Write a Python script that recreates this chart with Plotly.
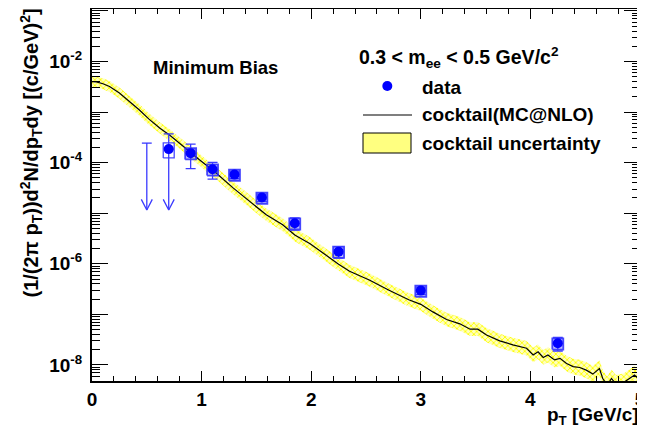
import plotly.graph_objects as go

# ---------------- data ----------------
cocktail_pt = [0.00, 0.04, 0.10, 0.16, 0.25, 0.34, 0.43, 0.52, 0.62, 0.71, 0.80, 0.89,
               0.98, 1.04, 1.10, 1.13, 1.29, 1.44, 1.59, 1.74, 1.85, 1.99, 2.17, 2.25,
               2.35, 2.53, 2.71, 2.89, 3.00, 3.11, 3.235, 3.356, 3.45, 3.52, 3.60, 3.72,
               3.84, 3.965, 4.025, 4.07, 4.117, 4.16, 4.22, 4.27, 4.33, 4.39, 4.45, 4.51,
               4.57, 4.63, 4.66, 4.70, 4.74, 4.78, 4.85, 4.91, 4.95, 5.00]
cocktail_val = [3.98e-3, 3.95e-3, 3.63e-3, 3.20e-3, 2.37e-3, 1.62e-3, 1.11e-3, 7.24e-4,
                4.79e-4, 3.47e-4, 2.45e-4, 1.66e-4, 1.14e-4, 8.9e-5, 7.2e-5, 6.3e-5,
                3.13e-5, 1.70e-5, 9.3e-6, 5.9e-6, 3.7e-6, 2.5e-6, 1.29e-6, 9.8e-7,
                7.1e-7, 4.8e-7, 3.0e-7, 1.95e-7, 1.58e-7, 1.12e-7, 7.9e-8, 6.5e-8,
                5.1e-8, 5.1e-8, 3.9e-8, 3.0e-8, 2.5e-8, 2.14e-8, 1.58e-8, 1.82e-8,
                1.41e-8, 1.58e-8, 1.26e-8, 1.35e-8, 1.07e-8, 9.3e-9, 8.9e-9, 7.9e-9,
                6.6e-9, 8.5e-9, 5.4e-9, 4.0e-9, 5.4e-9, 4.2e-9, 4.5e-9, 5.4e-9,
                6.3e-9, 5.0e-9]
# multiplicative half-width of the cocktail uncertainty band
cocktail_unc = [1.28, 1.28, 1.28, 1.28, 1.29, 1.29, 1.30, 1.30, 1.30, 1.31, 1.31, 1.31,
                1.32, 1.32, 1.32, 1.32, 1.33, 1.33, 1.33, 1.34, 1.34, 1.34, 1.35, 1.35,
                1.35, 1.35, 1.35, 1.36, 1.36, 1.36, 1.36, 1.37, 1.37, 1.37, 1.38, 1.38,
                1.38, 1.39, 1.40, 1.40, 1.40, 1.41, 1.41, 1.42, 1.42, 1.43, 1.43, 1.44,
                1.45, 1.46, 1.47, 1.48, 1.49, 1.50, 1.50, 1.51, 1.52, 1.52]

data_pt = [0.7, 0.9, 1.1, 1.3, 1.55, 1.85, 2.25, 3.0, 4.25]
data_val = [1.85e-4, 1.54e-4, 7.4e-5, 5.8e-5, 2.04e-5, 6.35e-6, 1.74e-6, 2.95e-7, 2.69e-8]
data_stat_up = [1.85e-4, 7.8e-5, 2.7e-5, 1.0e-5, 3.5e-6, 1.7e-6, 4.5e-7, 5e-8, 8e-9]
data_stat_dn = [0.0, 7.8e-5, 2.7e-5, 1.0e-5, 3.5e-6, 1.7e-6, 4.5e-7, 5e-8, 8e-9]
data_sys = [0.33, 0.25, 0.25, 0.25, 0.25, 0.25, 0.25, 0.25, 0.25]   # relative

# downward arrows: upper limit at 0.5 and lower stat. error of the 0.7 point
arrow_pt = [0.5, 0.7]
arrow_from = [2.43e-4, 1.85e-4]
arrow_tip = 1.16e-5
limit_pt = [0.5]
limit_val = [2.43e-4]

x_ticks = [0, 1, 2, 3, 4, 5]
y_decades = [1e-8, 1e-7, 1e-6, 1e-5, 1e-4, 1e-3, 1e-2, 1e-1]
y_ticktext = ['10<sup>-8</sup>', '', '10<sup>-6</sup>', '', '10<sup>-4</sup>', '',
              '10<sup>-2</sup>', '']
y_minor = [m * d for d in [1e-9, 1e-8, 1e-7, 1e-6, 1e-5, 1e-4, 1e-3, 1e-2, 1e-1]
           for m in range(2, 10)]

# ---------------- styling ----------------
FONT = 'Liberation Sans, Arial, Helvetica, sans-serif'
BLUE = '#0000ff'
EBLUE = '#3a3aff'
box_dx = 0.05
head_dx = 0.05
head_dec = 10 ** 0.21

fig = go.Figure()

band_lo = [v / f for v, f in zip(cocktail_val, cocktail_unc)]
band_hi = [v * f for v, f in zip(cocktail_val, cocktail_unc)]
fig.add_trace(go.Scatter(x=cocktail_pt, y=band_lo, mode='lines', line=dict(width=0),
                         showlegend=False, hoverinfo='skip'))
fig.add_trace(go.Scatter(x=cocktail_pt, y=band_hi, mode='lines', line=dict(width=0),
                         fill='tonexty', fillcolor='rgba(255,255,0,0.5)',
                         fillpattern=dict(shape='x', fgcolor='#ffff00', bgcolor='#ffffc0',
                                          size=4, solidity=0.4, fillmode='replace'),
                         showlegend=False, hoverinfo='skip'))
fig.add_trace(go.Scatter(x=cocktail_pt, y=cocktail_val, mode='lines',
                         line=dict(color='black', width=1.2), showlegend=False))

# systematic boxes
for i, (x, v, s) in enumerate(zip(data_pt, data_val, data_sys)):
    lo, hi = v * (1 - s), v * (1 + s)
    fig.add_trace(go.Scatter(
        x=[x - box_dx, x + box_dx, x + box_dx, x - box_dx, x - box_dx],
        y=[lo, lo, hi, hi, lo], mode='lines', fill='toself',
        fillcolor='rgba(255,255,255,0)' if i == 0 else 'rgba(70,70,255,0.35)',
        line=dict(color='rgba(40,40,255,0.85)', width=1.3 if i == 0 else 1.8),
        showlegend=False, hoverinfo='skip'))

# arrows
ax, ay = [], []
for x, v in zip(arrow_pt, arrow_from):
    ax += [x, x, None, x - head_dx, x, x + head_dx, None]
    ay += [v, arrow_tip, None, arrow_tip * head_dec, arrow_tip, arrow_tip * head_dec, None]
for x, v in zip(limit_pt, limit_val):
    ax += [x - box_dx * 0.9, x + box_dx * 0.9, None]
    ay += [v, v, None]
fig.add_trace(go.Scatter(x=ax, y=ay, mode='lines', line=dict(color=EBLUE, width=1.3),
                         showlegend=False, hoverinfo='skip'))

fig.add_trace(go.Scatter(
    x=data_pt, y=data_val, mode='markers',
    marker=dict(color=BLUE, size=10, symbol='circle'),
    error_y=dict(type='data', array=data_stat_up, arrayminus=data_stat_dn,
                 color=EBLUE, thickness=1.3, width=5),
    showlegend=False))

axis_common = dict(showline=True, linecolor='black', linewidth=2, mirror='ticks',
                   ticks='inside', tickcolor='black', tickwidth=1,
                   showgrid=False, zeroline=False, automargin=False,
                   ticklabeloverflow='allow',
                   tickfont=dict(family=FONT, size=19, color='black', weight='bold'))

fig.update_xaxes(range=[0, 5], tickmode='array', tickvals=x_ticks, ticklen=10,
                 minor=dict(dtick=0.2, tick0=0, ticks='inside', ticklen=5,
                            tickcolor='black', showgrid=False),
                 **axis_common)
fig.update_yaxes(type='log', range=[-8.317, -0.963], tickmode='array',
                 tickvals=y_decades, ticktext=y_ticktext, ticklen=16,
                 minor=dict(tickmode='array', tickvals=y_minor, ticks='inside',
                            ticklen=8, tickcolor='black', showgrid=False),
                 ticklabelstandoff=4,
                 **axis_common)

ann_font = dict(family=FONT, size=19, color='black', weight='bold')
# plot area in window pixels: x 92..640, y 9..381
W, H = 548.0, 372.0
def px(x):
    return (x - 92) / W
def py(y):
    return (381 - y) / H

annotations = [
    dict(text='(1/(2π p<sub>T</sub>))d<sup>2</sup>N/dp<sub>T</sub>dy [(c/GeV)<sup>2</sup>]',
         x=px(31), y=py(7), xanchor='center', yanchor='top', textangle=-90,
         font=dict(family=FONT, size=20, color='black', weight='bold')),
    dict(text='p<sub>T</sub> [GeV/c]', x=px(641), y=py(402), xanchor='right',
         yanchor='top', font=ann_font),
    dict(text='Minimum Bias', x=px(215), y=py(68), xanchor='center', yanchor='middle',
         font=dict(family=FONT, size=18.5, color='black', weight='bold')),
    dict(text='0.3 &lt; m<sub>ee</sub> &lt; 0.5 GeV/c<sup>2</sup>', x=px(357), y=py(57),
         xanchor='left', yanchor='middle',
         font=dict(family=FONT, size=19.5, color='black', weight='bold')),
    dict(text='data', x=px(420), y=py(87), xanchor='left', yanchor='middle', font=ann_font),
    dict(text='cocktail(MC@NLO)', x=px(420), y=py(115), xanchor='left', yanchor='middle',
         font=ann_font),
    dict(text='cocktail uncertainty', x=px(420), y=py(143), xanchor='left',
         yanchor='middle', font=ann_font),
]
for a in annotations:
    a.update(xref='paper', yref='paper', showarrow=False)

shapes = [
    dict(type='circle', xref='paper', yref='paper', xsizemode='pixel', ysizemode='pixel',
         xanchor=px(387.3), yanchor=py(86), x0=-5, x1=5, y0=-5, y1=5,
         fillcolor=BLUE, line=dict(width=0)),
    dict(type='line', xref='paper', yref='paper', x0=px(363), x1=px(412), y0=py(115),
         y1=py(115), line=dict(color='black', width=1.2)),
    dict(type='rect', xref='paper', yref='paper', x0=px(363), x1=px(411), y0=py(153),
         y1=py(133), fillcolor='#ffff80', line=dict(color='black', width=1)),
]

# the page body has an 8px margin, so the figure is 8px smaller than the window
fig.update_layout(width=637, height=425, margin=dict(l=84, r=5, t=1, b=52),
                  plot_bgcolor='white', paper_bgcolor='white', showlegend=False,
                  annotations=annotations, shapes=shapes,
                  font=dict(family=FONT))
fig.write_html('out.html')
